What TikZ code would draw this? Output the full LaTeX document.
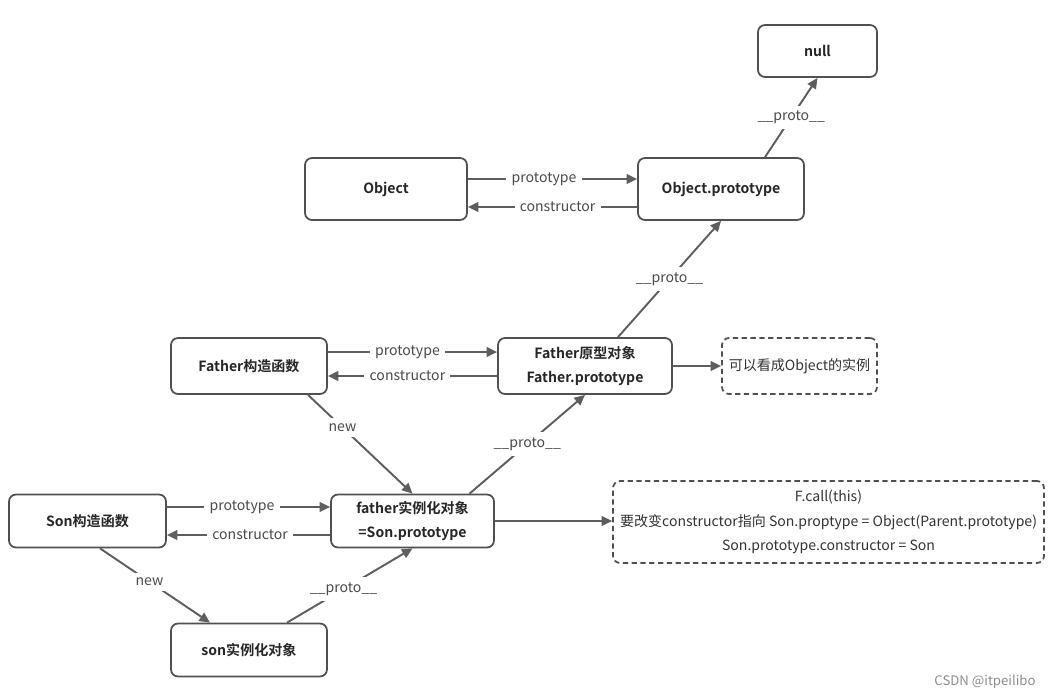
\documentclass[tikz,border=0pt]{standalone}
\usepackage{fontspec}
\setmainfont{Noto Sans CJK SC}[BoldFont={Noto Sans CJK SC Bold}]
\usetikzlibrary{arrows.meta}
\definecolor{boxgray}{HTML}{505050}
\definecolor{linegray}{HTML}{5E5E5E}
\definecolor{textgray}{HTML}{4A4A4A}

\begin{document}
\begin{tikzpicture}[x=0.02cm, y=-0.02cm, font=\fontsize{8}{9.5}\selectfont]
	\tikzstyle{box}=[draw=boxgray, line width=1pt, rounded corners=4pt, inner sep=0pt, align=center, text=black!85, font=\fontsize{8}{14}\selectfont\bfseries]
	\tikzstyle{note}=[box, dash pattern=on 3pt off 2pt, font=\fontsize{8}{14}\selectfont, text=black!80]
	\tikzstyle{link}=[draw=linegray, line width=1.1pt, -{Triangle[length=6pt,width=5.5pt]}]
	\tikzstyle{lbl}=[fill=white, inner sep=3pt, text=textgray]

	\useasboundingbox (0,0) rectangle (1061,699);

	% Top
	\node[box, minimum width=2.38cm, minimum height=1.04cm] at (817.5,51) (null) {null};
	\node[box, minimum width=3.24cm, minimum height=1.24cm] at (386,189) (obj) {Object};
	\node[box, minimum width=3.32cm, minimum height=1.24cm] at (721,189) (objp) {Object.prototype};

	% Father
	\node[box, minimum width=3.12cm, minimum height=1.12cm] at (249,366) (father) {Father构造函数};
	\node[box, minimum width=3.48cm, minimum height=1.12cm] at (585,366) (fatherp) {Father原型对象\\Father.prototype};
	\node[note, minimum width=3.1cm, minimum height=1.12cm] at (799.5,366) (inst) {可以看成Object的实例};

	% Son
	\node[box, minimum width=3.14cm, minimum height=1.06cm] at (87.5,521) (son) {Son构造函数};
	\node[box, minimum width=3.26cm, minimum height=1.06cm] at (412.5,521) (fatherobj) {father实例化对象\\=Son.prototype};
	\node[note, minimum width=8.62cm, minimum height=1.64cm] at (828.5,522) (remark) {F.call(this)\\要改变constructor指向 Son.proptype = Object(Parent.prototype)\\Son.prototype.constructor = Son};
	\node[box, minimum width=3.12cm, minimum height=1.06cm] at (249,650) (sonobj) {son实例化对象};

	% Object <-> Object.prototype
	\draw[link] ([yshift=0.2cm]obj.east) -- node[lbl, pos=0.45] {prototype} ([yshift=0.2cm]objp.west);
	\draw[link] ([yshift=-0.36cm]objp.west) -- node[lbl, pos=0.47] {constructor} ([yshift=-0.36cm]obj.east);
	\draw[link] ([xshift=0.88cm]objp.north) -- node[lbl] {\_\_proto\_\_} (null.south);

	% Father <-> Father.prototype
	\draw[link] ([yshift=0.28cm]father.east) -- node[lbl, pos=0.47] {prototype} ([yshift=0.28cm]fatherp.west);
	\draw[link] ([yshift=-0.2cm]fatherp.west) -- node[lbl, pos=0.53] {constructor} ([yshift=-0.2cm]father.east);
	\draw[link] ([xshift=0.66cm]fatherp.north) -- node[lbl] {\_\_proto\_\_} (objp.south);
	\draw[link] (fatherp.east) -- (inst.west);

	% Son <-> father instance
	\draw[link] ([yshift=0.28cm]son.east) -- node[lbl, pos=0.46] {prototype} ([yshift=0.28cm]fatherobj.west);
	\draw[link] ([yshift=-0.28cm]fatherobj.west) -- node[lbl, pos=0.49] {constructor} ([yshift=-0.28cm]son.east);
	\draw[link] ([xshift=1.18cm]father.south) -- node[lbl, pos=0.33] {new} (fatherobj.north);
	\draw[link] ([xshift=1.14cm]fatherobj.north) -- node[lbl, pos=0.5] {\_\_proto\_\_} (fatherp.south);
	\draw[link] (fatherobj.east) -- (fatherobj.east -| remark.west);

	% son instance
	\draw[link] ([xshift=0.25cm]son.south) -- node[lbl, pos=0.45] {new} ([xshift=-0.78cm]sonobj.north);
	\draw[link] ([xshift=0.76cm]sonobj.north) -- node[lbl, pos=0.45] {\_\_proto\_\_} (fatherobj.south);

	% Watermark
	\node[text=black!45, font=\fontsize{7.5}{8}\selectfont] at (985,682) (mark) {CSDN @itpeilibo};
\end{tikzpicture}
\end{document}
